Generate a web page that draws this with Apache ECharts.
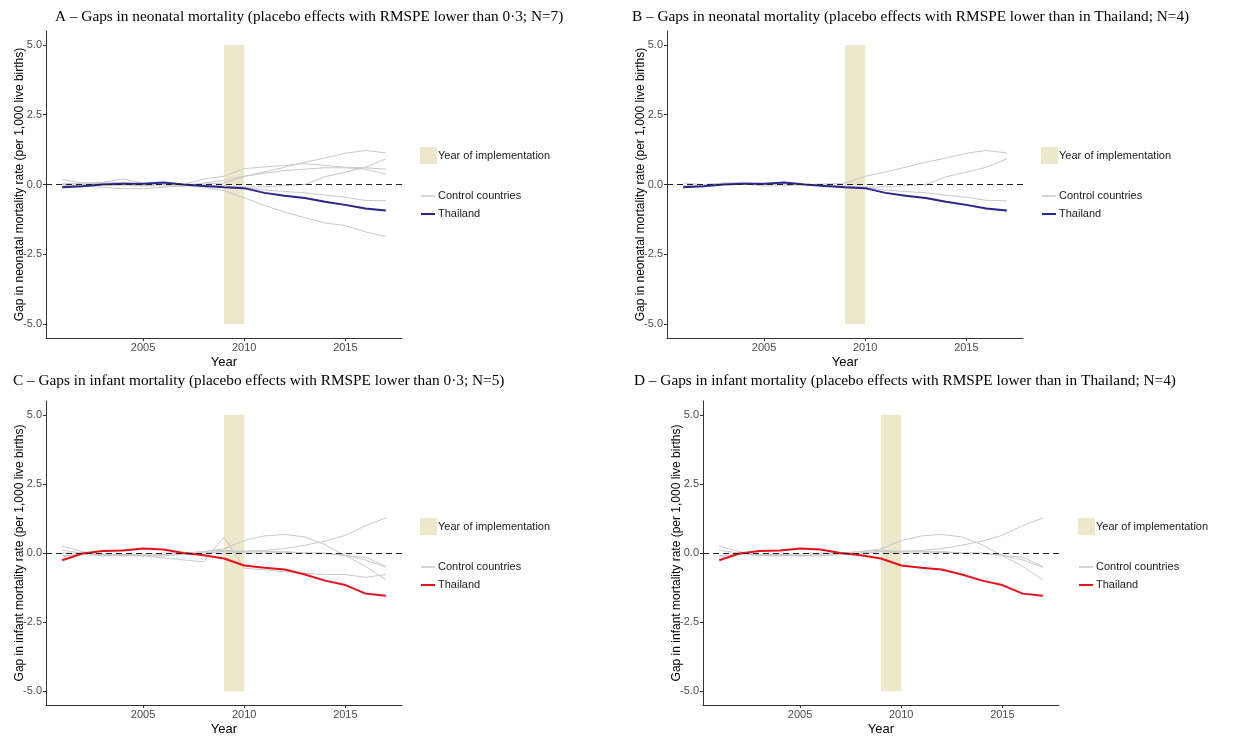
<!DOCTYPE html>
<html>
<head>
<meta charset="utf-8">
<script src="https://cdn.jsdelivr.net/npm/echarts@6/dist/echarts.min.js"></script>
<style>html,body{margin:0;padding:0;background:#fff}#c{width:1233px;height:737px}</style>
</head>
<body>
<div id="c"></div>
<script>
const years = [2001,2002,2003,2004,2005,2006,2007,2008,2009,2010,2011,2012,2013,2014,2015,2016,2017];
const xTicks = [2005, 2010, 2015];
const yTicks = [-5, -2.5, 0, 2.5, 5];
const implYears = [2009, 2010];

const titles = [
  "A \u2013 Gaps in neonatal mortality (placebo effects with RMSPE lower than 0\u00b73; N=7)",
  "B \u2013 Gaps in neonatal mortality (placebo effects with RMSPE lower than in Thailand; N=4)",
  "C \u2013 Gaps in infant mortality (placebo effects with RMSPE lower than 0\u00b73; N=5)",
  "D \u2013 Gaps in infant mortality (placebo effects with RMSPE lower than in Thailand; N=4)"
];
const yNames = [
  "Gap in neonatal mortality rate (per 1,000 live births)",
  "Gap in neonatal mortality rate (per 1,000 live births)",
  "Gap in infant mortality rate (per 1,000 live births)",
  "Gap in infant mortality rate (per 1,000 live births)"
];
const legendLabels = ["Year of implementation", "Control countries", "Thailand"];

// Thailand gaps
const thaiNeonatal = [-0.1,-0.06,0.0,0.03,0.03,0.07,0.0,-0.05,-0.1,-0.13,-0.3,-0.4,-0.48,-0.62,-0.73,-0.86,-0.93];
const thaiInfant   = [-0.26,-0.02,0.07,0.09,0.16,0.13,0.0,-0.08,-0.2,-0.45,-0.53,-0.6,-0.78,-1.0,-1.16,-1.47,-1.55];

// Neonatal placebo gaps
const neo1 = [0.18,0.05,0.0,-0.05,-0.05,0.0,0.0,0.2,0.3,0.57,0.63,0.68,0.75,0.68,0.62,0.6,0.55];
const neo2 = [-0.05,-0.08,0.0,0.02,-0.05,-0.05,0.0,0.02,0.05,0.29,0.45,0.62,0.8,0.95,1.12,1.22,1.13];
const neo3 = [0.0,0.05,0.08,0.2,0.05,0.0,-0.05,0.05,0.15,0.3,0.4,0.5,0.55,0.6,0.6,0.55,0.37];
const neo4 = [-0.1,-0.05,0.05,0.08,0.0,0.0,0.0,-0.05,-0.08,-0.1,-0.08,-0.04,0.0,0.28,0.44,0.62,0.92];
const neo5 = [0.05,0.0,0.02,0.0,0.0,0.05,0.0,-0.02,-0.05,-0.1,-0.2,-0.25,-0.3,-0.38,-0.46,-0.57,-0.58];
const neo6 = [0.0,-0.05,-0.1,-0.15,-0.15,-0.1,-0.05,-0.1,-0.22,-0.48,-0.75,-0.99,-1.19,-1.38,-1.47,-1.7,-1.86];
const neo7 = [-0.05,0.0,0.05,0.05,0.0,0.05,0.0,-0.05,-0.08,-0.15,-0.3,-0.42,-0.5,-0.64,-0.75,-0.89,-0.95];

// Infant placebo gaps
const inf1 = [0.25,0.05,-0.05,-0.08,-0.1,-0.05,0.0,0.05,0.15,0.45,0.62,0.67,0.58,0.3,-0.1,-0.48,-0.97];
const inf2 = [-0.1,-0.05,-0.1,-0.1,-0.1,-0.1,-0.05,0.0,0.05,0.07,0.09,0.16,0.28,0.43,0.64,0.99,1.27];
const inf3 = [0.0,0.0,-0.05,-0.05,-0.1,-0.18,-0.25,-0.32,0.58,-0.55,-0.61,-0.67,-0.73,-0.78,-0.78,-0.88,-0.78];
const inf4 = [-0.15,0.0,-0.05,-0.05,-0.05,0.0,0.0,0.05,0.1,0.05,0.05,0.05,0.0,0.0,-0.08,-0.25,-0.52];
const inf5 = [0.1,0.0,-0.08,-0.08,-0.1,-0.1,-0.05,0.0,0.05,0.0,0.0,0.02,0.0,-0.02,-0.1,-0.15,-0.48];

const panelControls = [
  [neo1, neo2, neo3, neo4, neo5, neo6, neo7],
  [neo2, neo4, neo5, neo7],
  [inf1, inf2, inf3, inf4, inf5],
  [inf1, inf2, inf4, inf5]
];
const panelThai = [thaiNeonatal, thaiNeonatal, thaiInfant, thaiInfant];
const thaiColors = ['#2E2690', '#2E2690', '#E8111B', '#E8111B'];

// layout
const grids = [
  {left: 46, top: 31, width: 356, height: 307},
  {left: 667, top: 31, width: 356, height: 307},
  {left: 46, top: 401, width: 356, height: 308},
  {left: 703, top: 401, width: 356, height: 308}
];
const titlePos = [[55, 9], [632, 9], [13, 373], [634, 373]];
const legendPos = [[420, 147], [1041, 147], [420, 518], [1078, 518]];

const pair = a => a.map((v, i) => [years[i], v]);
const sans = "'Liberation Sans', Arial, sans-serif";

const option = {
  animation: false,
  backgroundColor: '#fff',
  title: titles.map((t, i) => ({
    text: t, left: titlePos[i][0], top: titlePos[i][1], padding: 0,
    textStyle: {fontFamily: "'Liberation Serif', 'Times New Roman', serif", fontSize: 15.3, fontWeight: 'normal', color: '#000'}
  })),
  grid: grids.map(g => Object.assign({containLabel: false}, g)),
  xAxis: grids.map((g, i) => ({
    type: 'value', gridIndex: i, min: 2000.2, max: 2017.8,
    splitLine: {show: false},
    axisLine: {show: true, onZero: false, lineStyle: {color: '#333', width: 1}},
    axisTick: {show: true, customValues: xTicks, length: 3, lineStyle: {color: '#333'}},
    axisLabel: {customValues: xTicks, color: '#4d4d4d', fontSize: 11, margin: 4, fontFamily: sans,
      formatter: v => String(v)},
    name: 'Year', nameLocation: 'middle', nameGap: 18, nameMoveOverlap: false,
    nameTextStyle: {fontSize: 13, color: '#000', fontFamily: sans}
  })),
  yAxis: grids.map((g, i) => ({
    type: 'value', gridIndex: i, min: -5.5, max: 5.5,
    splitLine: {show: false},
    axisLine: {show: true, onZero: false, lineStyle: {color: '#333', width: 1}},
    axisTick: {show: true, customValues: yTicks, length: 3, lineStyle: {color: '#333'}},
    axisLabel: {customValues: yTicks, color: '#4d4d4d', fontSize: 11, margin: 4, fontFamily: sans,
      formatter: v => v.toFixed(1)},
    name: yNames[i], nameLocation: 'middle', nameGap: 20, nameRotate: 90, nameMoveOverlap: false,
    nameTextStyle: {fontSize: 12, color: '#000', fontFamily: sans}
  })),
  series: [],
  graphic: []
};

panelControls.forEach((ctrls, p) => {
  ctrls.forEach((arr, k) => {
    option.series.push({
      type: 'line', name: 'Control countries', xAxisIndex: p, yAxisIndex: p,
      data: pair(arr), showSymbol: false, symbol: 'none', silent: true, z: 2,
      lineStyle: {color: '#C9C9C9', width: 1}
    });
  });
  option.series.push({
    type: 'line', name: 'Thailand', xAxisIndex: p, yAxisIndex: p,
    data: pair(panelThai[p]), showSymbol: false, symbol: 'none', silent: true, z: 4,
    lineStyle: {color: thaiColors[p], width: 2},
    markArea: {
      silent: true, itemStyle: {color: '#EDE7CB'},
      data: [[{xAxis: implYears[0], yAxis: -5}, {xAxis: implYears[1], yAxis: 5}]]
    },
    markLine: {
      silent: true, symbol: 'none', label: {show: false},
      lineStyle: {color: '#222', type: [6, 4], width: 1.2},
      data: [{yAxis: 0}]
    }
  });

  const [lx, ly] = legendPos[p];
  const txt = {fontSize: 11, fill: '#1a1a1a', fontFamily: sans, verticalAlign: 'middle'};
  option.graphic.push(
    {type: 'rect', left: lx, top: ly, shape: {width: 17, height: 17}, style: {fill: '#EDE7CB'}},
    {type: 'text', x: lx + 18, y: ly + 9, style: Object.assign({text: legendLabels[0]}, txt)},
    {type: 'line', shape: {x1: lx + 1, y1: ly + 49, x2: lx + 15, y2: ly + 49}, style: {stroke: '#B8B8B8', lineWidth: 1.2}},
    {type: 'text', x: lx + 18, y: ly + 49, style: Object.assign({text: legendLabels[1]}, txt)},
    {type: 'line', shape: {x1: lx + 1, y1: ly + 67, x2: lx + 15, y2: ly + 67}, style: {stroke: thaiColors[p], lineWidth: 2}},
    {type: 'text', x: lx + 18, y: ly + 67, style: Object.assign({text: legendLabels[2]}, txt)}
  );
});

const chart = echarts.init(document.getElementById('c'), null, {renderer: 'canvas'});
chart.setOption(option);
</script>
</body>
</html>
